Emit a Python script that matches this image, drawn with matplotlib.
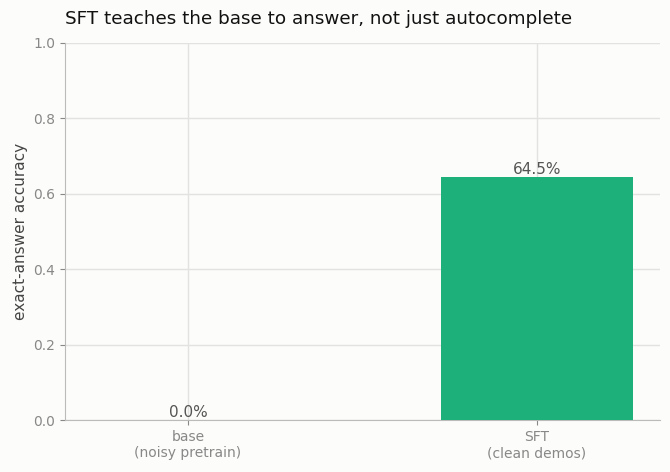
import matplotlib
matplotlib.use("Agg")
import matplotlib.pyplot as plt

models = ["base\n(noisy pretrain)", "SFT\n(clean demos)"]
accuracy = [0.0, 0.645]

BG = "#FCFCFA"
GREEN = "#1DB07B"

plt.rcParams.update({
    "font.family": "DejaVu Sans",
    "figure.facecolor": BG,
    "axes.facecolor": BG,
    "axes.edgecolor": "#BBBBBB",
    "xtick.color": "#888888",
    "ytick.color": "#888888",
    "xtick.labelcolor": "#888888",
    "ytick.labelcolor": "#888888",
})

fig = plt.figure(figsize=(6.7, 4.72), dpi=100)
ax = fig.add_axes([0.097, 0.110, 0.888, 0.799])

x = range(len(models))
bars = ax.bar(x, accuracy, width=0.55, color=GREEN, zorder=3)
for xi, v in zip(x, accuracy):
    ax.text(xi, v, f"{v * 100:.1f}%", ha="center", va="bottom",
            fontsize=11, color="#555555", zorder=4)

ax.set_xticks(list(x))
ax.set_xticklabels(models, fontsize=10)
ax.tick_params(axis="y", labelsize=10)
ax.set_ylim(0, 1.0)
ax.set_ylabel("exact-answer accuracy", fontsize=11, color="#444444")
ax.set_title("SFT teaches the base to answer, not just autocomplete",
             loc="left", fontsize=13.2, color="#111111", pad=14)
ax.grid(True, color="#E2E2E0", linewidth=1, zorder=0)
ax.spines["top"].set_visible(False)
ax.spines["right"].set_visible(False)

fig.savefig("out.png", dpi=100)
